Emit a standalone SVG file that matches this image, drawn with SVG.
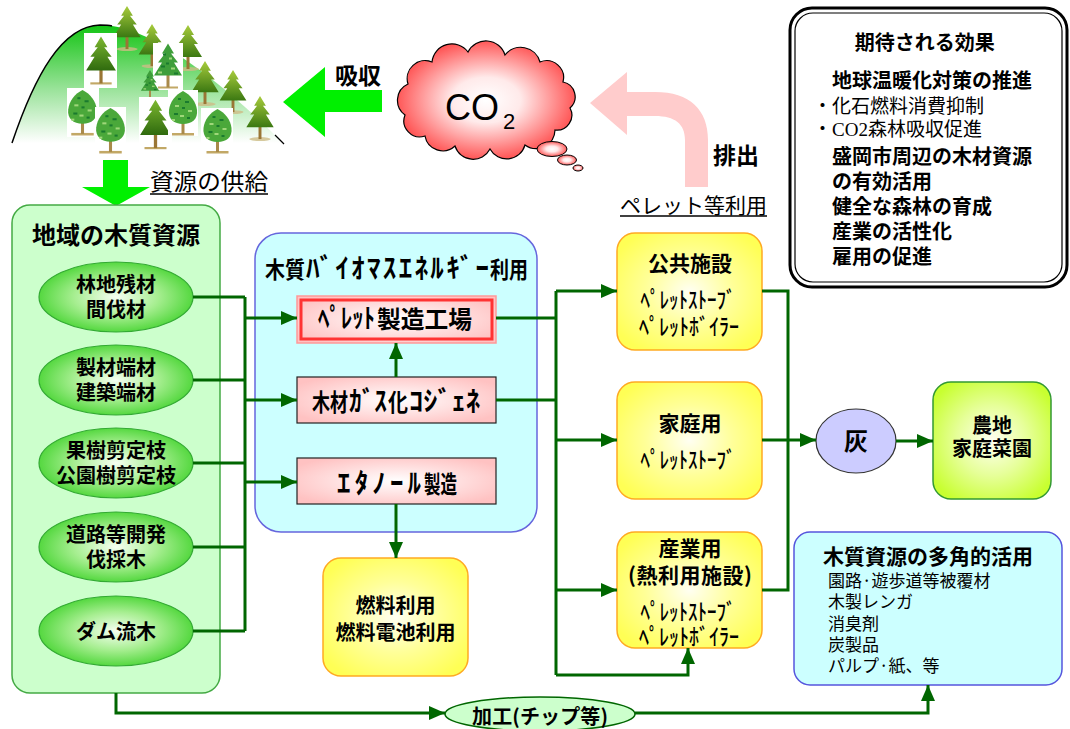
<svg xmlns="http://www.w3.org/2000/svg" xmlns:xlink="http://www.w3.org/1999/xlink" width="1070" height="729" viewBox="0 0 1070 729">
  <style>
    .cj { font-family: "Noto Sans CJK JP", "Noto Sans CJK SC", sans-serif; fill: #000; }
    .b { font-weight: bold; }
    .n { font-weight: normal; }
    .mid { text-anchor: middle; }
    .conn { fill: none; stroke: #006600; stroke-width: 3; }
    .arr { marker-end: url(#ah); }
    .pinkbox { fill: url(#pinkG); stroke: #222; stroke-width: 1.2; }
    .yellowbox { fill: url(#yellowG); stroke: #FFAA22; stroke-width: 1.5; }
    .res { fill: url(#resG); stroke: #33AA33; stroke-width: 1.2; }
    .bg { fill: #fff; }
    .hk { font-size: 27px; }
    .kj { font-size: 24px; }
    .sub { font-size: 23px; font-weight: 500; }
  </style>
  <defs>
    <marker id="ah" viewBox="0 0 16 14" refX="16" refY="7" markerWidth="16" markerHeight="14" markerUnits="userSpaceOnUse" orient="auto">
      <path d="M0,0 L16,7 L0,14 Z" fill="#006600"/>
    </marker>
    <linearGradient id="hillG" x1="0" y1="0" x2="0" y2="1">
      <stop offset="0" stop-color="#14C414"/>
      <stop offset="0.55" stop-color="#9BE39B"/>
      <stop offset="1" stop-color="#FFFFFF"/>
    </linearGradient>
    <radialGradient id="cloudG" cx="0.5" cy="0.5" r="0.55">
      <stop offset="0" stop-color="#FFFFFF"/>
      <stop offset="0.35" stop-color="#FFEAEA"/>
      <stop offset="1" stop-color="#FF4040"/>
    </radialGradient>
    <radialGradient id="resG" cx="0.5" cy="0.5" r="0.5">
      <stop offset="0" stop-color="#F6FFF2"/>
      <stop offset="0.55" stop-color="#A6EE90"/>
      <stop offset="1" stop-color="#55D840"/>
    </radialGradient>
    <radialGradient id="pinkG" cx="0.5" cy="0.5" r="0.6">
      <stop offset="0" stop-color="#FFFFFF"/>
      <stop offset="1" stop-color="#FFC2C2"/>
    </radialGradient>
    <radialGradient id="yellowG" cx="0.5" cy="0.5" r="0.6">
      <stop offset="0" stop-color="#FFFFF2"/>
      <stop offset="0.5" stop-color="#FFFF99"/>
      <stop offset="1" stop-color="#FFFF55"/>
    </radialGradient>
    <radialGradient id="limeG" cx="0.5" cy="0.5" r="0.6">
      <stop offset="0" stop-color="#FFFFF2"/>
      <stop offset="0.5" stop-color="#E6FF99"/>
      <stop offset="1" stop-color="#C8FF30"/>
    </radialGradient>
    <linearGradient id="pineG" x1="0" y1="0" x2="0" y2="1">
      <stop offset="0" stop-color="#A8CC3C"/>
      <stop offset="1" stop-color="#3B7812"/>
    </linearGradient>
    <linearGradient id="pineG2" x1="0" y1="0" x2="0" y2="1">
      <stop offset="0" stop-color="#7DB830"/>
      <stop offset="1" stop-color="#2F6A0E"/>
    </linearGradient>
    <symbol id="pine" viewBox="0 0 30 46">
      <ellipse cx="15" cy="44" rx="11" ry="2" fill="#CDBB86" opacity="0.8"/>
      <rect x="13.5" y="26" width="3" height="18" fill="#9A7635"/>
      <path d="M15,0 L21,10 L18,10 L25,19 L21,19 L29,32 L1,32 L9,19 L5,19 L12,10 L9,10 Z" fill="url(#pineG)"/>
    </symbol>
    <symbol id="pineDark" viewBox="0 0 30 46">
      <rect x="5" y="43" width="20" height="2" fill="#C2A866"/>
      <rect x="13.5" y="26" width="3" height="18" fill="#9A7635"/>
      <path d="M15,0 L21,10 L18,10 L25,19 L21,19 L29,32 L1,32 L9,19 L5,19 L12,10 L9,10 Z" fill="url(#pineG2)"/>
    </symbol>
    <symbol id="pineSpot" viewBox="0 0 30 46">
      <rect x="5" y="43" width="20" height="2" fill="#C2A866"/>
      <rect x="13.5" y="28" width="3" height="16" fill="#A98A4A"/>
      <path d="M15,0 L21,10 L18,10 L25,19 L21,19 L29,32 L1,32 L9,19 L5,19 L12,10 L9,10 Z" fill="#3E9E3A"/>
      <rect x="10" y="10" width="3" height="2" fill="#1A7A2E"/>
      <rect x="16" y="14" width="3" height="2" fill="#9FD77A"/>
      <rect x="8" y="22" width="4" height="2" fill="#1A7A2E"/>
      <rect x="18" y="24" width="4" height="2" fill="#9FD77A"/>
      <rect x="13" y="19" width="3" height="2" fill="#1A7A2E"/>
      <rect x="5" y="28" width="4" height="2" fill="#9FD77A"/>
      <rect x="21" y="29" width="4" height="2" fill="#1A7A2E"/>
    </symbol>
    <symbol id="bush" viewBox="0 0 30 46">
      <rect x="4" y="43" width="22" height="2.5" fill="#C2A866"/>
      <rect x="13.5" y="30" width="3" height="14" fill="#A98A4A"/>
      <path d="M15,1 C7,5 2,12 1,20 C0,29 6,34 15,34 C24,34 30,29 29,20 C28,12 23,5 15,1 Z" fill="#4AA83A"/>
      <rect x="10" y="8" width="3" height="2" fill="#1A7A2E"/>
      <rect x="17" y="11" width="4" height="2" fill="#1A7A2E"/>
      <rect x="7" y="15" width="4" height="2" fill="#9FD77A"/>
      <rect x="14" y="17" width="3" height="2" fill="#1A7A2E"/>
      <rect x="20" y="20" width="4" height="2" fill="#9FD77A"/>
      <rect x="6" y="23" width="4" height="2" fill="#1A7A2E"/>
      <rect x="12" y="25" width="4" height="2" fill="#9FD77A"/>
      <rect x="19" y="27" width="3" height="2" fill="#1A7A2E"/>
      <rect x="4" y="29" width="3" height="2" fill="#9FD77A"/>
    </symbol>
  </defs>

  <rect width="1070" height="729" fill="#FFFFFF"/>

  <!-- forest on the hill -->
  <g id="forest">
    <path d="M12,143 C35,75 62,26 100,25 C150,24 225,85 283,143 Z" fill="url(#hillG)"/>
    <path d="M12,143 C35,75 62,26 100,25 C104,25 108,25 112,26" fill="none" stroke="#000" stroke-width="1.5"/>
    <path d="M275,135 L284,144" stroke="#000" stroke-width="1.2"/>
    <use href="#pine" x="112" y="6" width="30" height="45"/>
    <use href="#pine" x="137" y="24" width="30" height="44"/>
    <use href="#pine" x="173" y="25" width="30" height="46"/>
    <rect class="bg" x="84" y="33" width="33" height="55"/>
    <use href="#pineDark" x="85" y="34" width="32" height="54"/>
    <rect class="bg" x="153" y="43" width="30" height="47"/>
    <use href="#pineSpot" x="153" y="43" width="30" height="47"/>
    <use href="#pine" x="190" y="61" width="30" height="45"/>
    <use href="#pine" x="218" y="70" width="30" height="44"/>
    <use href="#pineSpot" x="136" y="70" width="28" height="30"/>
    <rect class="bg" x="67" y="88" width="32" height="49"/>
    <use href="#bush" x="67" y="89" width="31" height="47"/>
    <rect class="bg" x="95" y="107" width="31" height="47"/>
    <use href="#bush" x="95" y="107" width="31" height="47"/>
    <rect class="bg" x="139" y="97" width="33" height="56"/>
    <use href="#pineDark" x="139" y="97" width="33" height="56"/>
    <rect class="bg" x="168" y="90" width="30" height="46"/>
    <use href="#bush" x="168" y="90" width="30" height="46"/>
    <rect class="bg" x="201" y="108" width="32" height="46"/>
    <use href="#bush" x="202" y="108" width="31" height="46"/>
    <use href="#pine" x="245" y="96" width="30" height="45"/>
  </g>

  <!-- absorption arrow -->
  <g id="absorb">
    <polygon points="283,102 325,67 325,90 382,90 382,112 325,112 325,137" fill="#00F000"/>
    <text class="cj b" x="335" y="84" font-size="23">吸収</text>
  </g>

  <!-- supply arrow -->
  <g id="supply">
    <polygon points="103,160 128,160 128,187 150,187 116,206 82,187 103,187" fill="#00F000"/>
    <text class="cj" x="150" y="190" font-size="23" textLength="118" lengthAdjust="spacingAndGlyphs">資源の供給</text>
    <line x1="150" y1="194" x2="268" y2="194" stroke="#000" stroke-width="1.5"/>
  </g>

  <!-- CO2 cloud -->
  <g id="co2">
    <path d="M408,84 A18,18 0 0 1 432,62 A20,20 0 0 1 468,52 A20,20 0 0 1 505,55 A20,20 0 0 1 540,62 A17,17 0 0 1 563,82 A15,15 0 0 1 570,108 A15,15 0 0 1 555,130 A19,19 0 0 1 525,145 A19,19 0 0 1 490,149 A19,19 0 0 1 455,146 A18,18 0 0 1 425,136 A16,16 0 0 1 405,115 A18,18 0 0 1 408,84 Z" fill="url(#cloudG)" stroke="#000" stroke-width="1.2"/>
    <ellipse cx="552" cy="149" rx="15" ry="7.5" fill="url(#cloudG)" stroke="#000" stroke-width="1"/>
    <ellipse cx="567" cy="160" rx="9.5" ry="5" fill="url(#cloudG)" stroke="#000" stroke-width="1"/>
    <ellipse cx="578" cy="168" rx="5" ry="3" fill="url(#cloudG)" stroke="#000" stroke-width="1"/>
    <text x="445" y="120" font-family="'Liberation Sans', Arial, sans-serif" font-size="36">CO<tspan x="503" y="129" font-size="22">2</tspan></text>
  </g>

  <!-- emission arrow -->
  <g id="emit">
    <path d="M590,103 L627,72 L627,92 L655,92 C690,92 708,110 708,140 L708,187 L685,187 L685,140 C685,124 675,116 655,116 L627,116 L627,135 Z" fill="#FFCCCC"/>
    <text class="cj b" x="713" y="164" font-size="23">排出</text>
    <text class="cj" x="620" y="213" font-size="21" textLength="147" lengthAdjust="spacingAndGlyphs">ペレット等利用</text>
    <line x1="620" y1="216" x2="767" y2="216" stroke="#000" stroke-width="1.5"/>
  </g>

  <!-- expected effects -->
  <g id="effects">
    <rect x="790" y="8" width="277" height="279" rx="22" fill="#FFFFFF" stroke="#000" stroke-width="3"/>
    <rect x="795" y="13" width="267" height="269" rx="18" fill="none" stroke="#000" stroke-width="1.2"/>
    <text class="cj b" font-size="20">
      <tspan class="mid" x="927" y="50">期待される効果</tspan>
      <tspan x="832" y="88">地球温暖化対策の推進</tspan>
      <tspan class="n" x="813" y="113" font-size="19">・化石燃料消費抑制</tspan>
      <tspan class="n" x="813" y="136" font-size="19">・<tspan font-family="'Liberation Serif', serif">CO2</tspan>森林吸収促進</tspan>
      <tspan x="832" y="164">盛岡市周辺の木材資源</tspan>
      <tspan x="832" y="189">の有効活用</tspan>
      <tspan x="832" y="214">健全な森林の育成</tspan>
      <tspan x="832" y="239">産業の活性化</tspan>
      <tspan x="832" y="264">雇用の促進</tspan>
    </text>
  </g>

  <!-- regional wood resources -->
  <g id="resources">
    <rect x="12" y="205" width="208" height="488" rx="18" fill="#CCFFCC" stroke="#44AA44" stroke-width="1.5"/>
    <text class="cj b mid" x="116" y="244" font-size="24">地域の木質資源</text>
  </g>
  <g id="res-forest">
    <ellipse class="res" cx="116" cy="297" rx="77" ry="35"/>
    <text class="cj b mid" font-size="20"><tspan x="116" y="292">林地残材</tspan><tspan x="116" y="317">間伐材</tspan></text>
  </g>
  <g id="res-mill">
    <ellipse class="res" cx="116" cy="380" rx="77" ry="35"/>
    <text class="cj b mid" font-size="20"><tspan x="116" y="375">製材端材</tspan><tspan x="116" y="400">建築端材</tspan></text>
  </g>
  <g id="res-prune">
    <ellipse class="res" cx="116" cy="463" rx="77" ry="35"/>
    <text class="cj b mid" font-size="20"><tspan x="116" y="458">果樹剪定枝</tspan><tspan x="116" y="483">公園樹剪定枝</tspan></text>
  </g>
  <g id="res-road">
    <ellipse class="res" cx="116" cy="547" rx="77" ry="35"/>
    <text class="cj b mid" font-size="20"><tspan x="116" y="542">道路等開発</tspan><tspan x="116" y="567">伐採木</tspan></text>
  </g>
  <g id="res-dam">
    <ellipse class="res" cx="116" cy="631" rx="77" ry="35"/>
    <text class="cj b mid" x="116" y="639" font-size="20">ダム流木</text>
  </g>

  <!-- biomass energy use -->
  <g id="biomass">
    <rect x="255" y="233" width="282" height="299" rx="26" fill="#CCFFFF" stroke="#6666DD" stroke-width="1.5"/>
    <text class="cj b" y="278" font-size="23"><tspan x="265" textLength="40" lengthAdjust="spacingAndGlyphs">木質</tspan><tspan class="hk" x="306" textLength="183" lengthAdjust="spacing">ﾊﾞｲｵﾏｽｴﾈﾙｷﾞｰ</tspan><tspan x="490" textLength="38" lengthAdjust="spacingAndGlyphs">利用</tspan></text>
  </g>
  <g id="pellet-plant">
    <rect x="297" y="296" width="199" height="47" fill="url(#pinkG)" stroke="#FF9999" stroke-width="1.5"/>
    <rect x="301" y="300" width="191" height="39" fill="none" stroke="#FF3333" stroke-width="3"/>
    <text class="cj b kj" y="328"><tspan class="hk" x="318" textLength="57" lengthAdjust="spacingAndGlyphs">ﾍﾟﾚｯﾄ</tspan><tspan x="377" textLength="95" lengthAdjust="spacingAndGlyphs">製造工場</tspan></text>
  </g>
  <g id="gas-cogen">
    <rect class="pinkbox" x="297" y="377" width="199" height="46"/>
    <text class="cj b kj" y="411"><tspan x="312" textLength="36" lengthAdjust="spacingAndGlyphs">木材</tspan><tspan class="hk" x="349" textLength="38" lengthAdjust="spacingAndGlyphs">ｶﾞｽ</tspan><tspan x="388" textLength="20" lengthAdjust="spacingAndGlyphs">化</tspan><tspan class="hk" x="409" textLength="71" lengthAdjust="spacingAndGlyphs">ｺｼﾞｪﾈ</tspan></text>
  </g>
  <g id="ethanol">
    <rect class="pinkbox" x="297" y="458" width="199" height="46"/>
    <text class="cj b kj" y="493"><tspan class="hk" x="337" textLength="84" lengthAdjust="spacing">ｴﾀﾉｰﾙ</tspan><tspan x="424" textLength="33" lengthAdjust="spacingAndGlyphs">製造</tspan></text>
  </g>
  <g id="fuel">
    <rect class="yellowbox" x="323" y="558" width="145" height="118" rx="18"/>
    <text class="cj b mid" font-size="20"><tspan x="395.5" y="613">燃料利用</tspan><tspan x="395.5" y="640">燃料電池利用</tspan></text>
  </g>

  <!-- users -->
  <g id="public">
    <rect class="yellowbox" x="617" y="233" width="145" height="117" rx="18"/>
    <text class="cj b mid" font-size="21"><tspan x="690" y="271">公共施設</tspan><tspan class="sub" x="688" y="308" textLength="95" lengthAdjust="spacingAndGlyphs">ﾍﾟﾚｯﾄｽﾄｰﾌﾞ</tspan><tspan class="sub" x="689" y="335" textLength="100" lengthAdjust="spacingAndGlyphs">ﾍﾟﾚｯﾄﾎﾞｲﾗｰ</tspan></text>
  </g>
  <g id="home">
    <rect class="yellowbox" x="617" y="382" width="145" height="117" rx="18"/>
    <text class="cj b mid" font-size="21"><tspan x="690" y="431">家庭用</tspan><tspan class="sub" x="688" y="468" textLength="95" lengthAdjust="spacingAndGlyphs">ﾍﾟﾚｯﾄｽﾄｰﾌﾞ</tspan></text>
  </g>
  <g id="industry">
    <rect class="yellowbox" x="617" y="532" width="145" height="116" rx="18"/>
    <text class="cj b mid" font-size="21"><tspan x="690" y="556">産業用</tspan><tspan x="690" y="583" textLength="124" lengthAdjust="spacing">(熱利用施設)</tspan><tspan class="sub" x="688" y="620" textLength="95" lengthAdjust="spacingAndGlyphs">ﾍﾟﾚｯﾄｽﾄｰﾌﾞ</tspan><tspan class="sub" x="689" y="645" textLength="100" lengthAdjust="spacingAndGlyphs">ﾍﾟﾚｯﾄﾎﾞｲﾗｰ</tspan></text>
  </g>
  <g id="ash">
    <ellipse cx="856" cy="441" rx="40" ry="32" fill="#CCCCFF" stroke="#333" stroke-width="1.2"/>
    <text class="cj b mid" x="856" y="450" font-size="24">灰</text>
  </g>
  <g id="farm">
    <rect x="933" y="382" width="118" height="117" rx="18" fill="url(#limeG)" stroke="#339933" stroke-width="1.5"/>
    <text class="cj b mid" font-size="20"><tspan x="992" y="433">農地</tspan><tspan x="992" y="456">家庭菜園</tspan></text>
  </g>
  <g id="multi-use">
    <rect x="794" y="532" width="268" height="153" rx="16" fill="#CCFFFF" stroke="#5555DD" stroke-width="1.5"/>
    <text class="cj" font-size="17">
      <tspan class="b" x="823" y="564" font-size="21">木質資源の多角的活用</tspan>
      <tspan x="828" y="587">園路·遊歩道等被覆材</tspan>
      <tspan x="828" y="608">木製レンガ</tspan>
      <tspan x="828" y="630">消臭剤</tspan>
      <tspan x="828" y="651">炭製品</tspan>
      <tspan x="828" y="672">パルプ·紙、等</tspan>
    </text>
  </g>
  <g id="chip">
    <ellipse cx="540" cy="714" rx="95" ry="17" fill="#CCFFCC" stroke="#006600" stroke-width="1.5"/>
    <text class="cj b mid" x="540" y="724" font-size="20" textLength="136" lengthAdjust="spacing">加工(チップ等)</text>
  </g>

  <!-- connectors -->
  <g id="connectors">
    <path class="conn" d="M193,297 H245 M193,380 H245 M193,463 H245 M193,547 H245 M193,631 H245 M245,297 V631"/>
    <path class="conn arr" d="M245,318 H297"/>
    <path class="conn arr" d="M245,400 H297"/>
    <path class="conn arr" d="M245,482 H297"/>
    <path class="conn arr" d="M396,377 V343"/>
    <path class="conn arr" d="M396,504 V558"/>
    <path class="conn" d="M496,318 H556 M496,400 H556 M556,291 V675"/>
    <path class="conn arr" d="M556,291 H617"/>
    <path class="conn arr" d="M556,440 H617"/>
    <path class="conn arr" d="M556,590 H617"/>
    <path class="conn arr" d="M556,675 H688 V648"/>
    <path class="conn" d="M762,291 H788 V590 H762"/>
    <path class="conn arr" d="M762,440 H816"/>
    <path class="conn arr" d="M896,441 H933"/>
    <path class="conn arr" d="M116,693 V713 H445"/>
    <path class="conn arr" d="M635,713 H928 V685"/>
  </g>
</svg>
